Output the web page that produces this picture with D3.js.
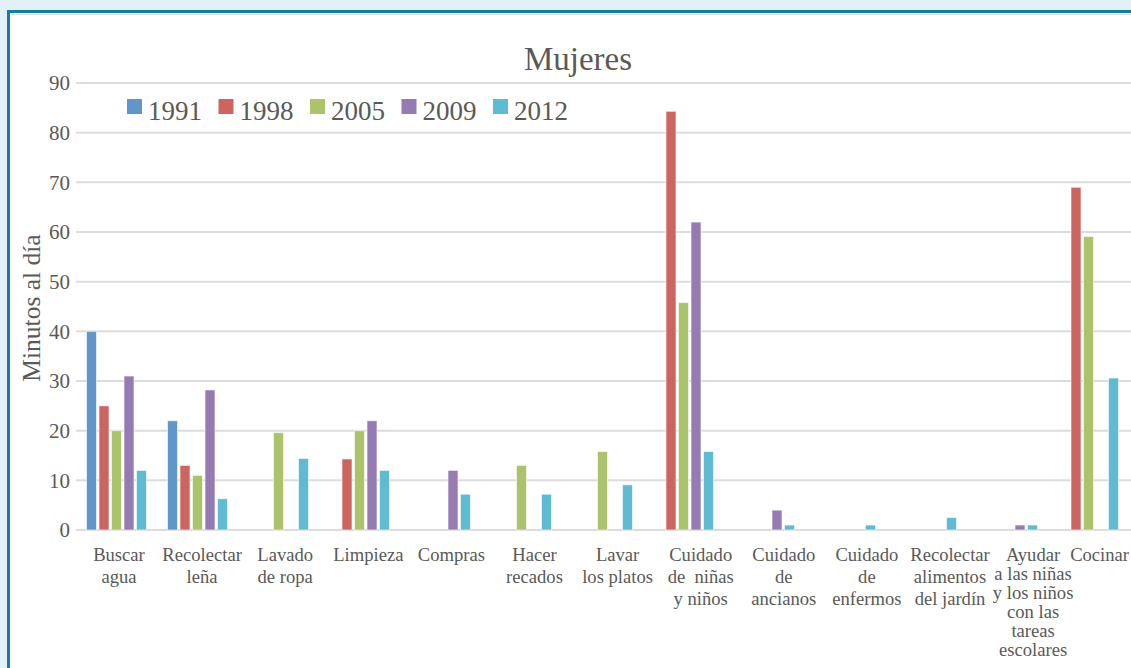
<!DOCTYPE html>
<html><head><meta charset="utf-8">
<script src="https://cdn.jsdelivr.net/npm/d3@7"></script>
<style>
html,body{margin:0;padding:0;background:#e3f0f8;overflow:hidden;}
svg{display:block;}
</style></head>
<body>
<svg id="c" width="1131" height="668"></svg>
<script>
const categories = [
  ["Buscar","agua"],
  ["Recolectar","leña"],
  ["Lavado","de ropa"],
  ["Limpieza"],
  ["Compras"],
  ["Hacer","recados"],
  ["Lavar","los platos"],
  ["Cuidado","de  niñas","y niños"],
  ["Cuidado","de","ancianos"],
  ["Cuidado","de","enfermos"],
  ["Recolectar","alimentos","del jardín"],
  ["Ayudar","a las niñas","y los niños","con las","tareas","escolares"],
  ["Cocinar"]
];
const seriesNames = ["1991","1998","2005","2009","2012"];
const v1991 = [40, 22, null, null, null, null, null, null, null, null, null, null, null];
const v1998 = [25, 13, null, 14.3, null, null, null, 84.3, null, null, null, null, 69];
const v2005 = [20, 11, 19.6, 20, null, 13, 15.8, 45.8, null, null, null, null, 59.1];
const v2009 = [31, 28.2, null, 22, 12, null, null, 62, 4, null, null, 1, null];
const v2012 = [12, 6.3, 14.4, 12, 7.2, 7.2, 9.1, 15.8, 1, 1, 2.5, 1, 30.6];
const seriesValues = [v1991, v1998, v2005, v2009, v2012];
const colors = ["#6096c8","#cc6560","#abc46c","#957bb2","#5ebbd2"];
const yTicks = [0,10,20,30,40,50,60,70,80,90];

const FONT = "Liberation Serif";
const TXT = "#595959";
const svg = d3.select("#c");

// frame
svg.append("rect").attr("x",8.5).attr("y",11.5).attr("width",1140).attr("height",700)
  .attr("fill","#ffffff").attr("stroke","#127f9e").attr("stroke-width",3);
svg.append("line").attr("x1",10).attr("x2",1131).attr("y1",14.5).attr("y2",14.5)
  .attr("stroke","#e4e4e4").attr("stroke-width",1);

const plotLeft = 76, bandW = 81, plotTop = 83, plotBottom = 530;
const x = d3.scaleBand().domain(d3.range(categories.length)).range([plotLeft, plotLeft + bandW*categories.length]).padding(0);
const xs = d3.scaleBand().domain(seriesNames).range([0, x.bandwidth()]).paddingInner(0.2).paddingOuter(0.84);
const y = d3.scaleLinear().domain([0,90]).range([plotBottom, plotTop]);
// label slots (category labels are laid out slightly wider than the bar bands)
const xLab = d3.scalePoint().domain(d3.range(categories.length)).range([119, 119 + 83.1*12]);

// gridlines
svg.append("g").selectAll("line").data(yTicks).join("line")
  .attr("x1", plotLeft).attr("x2", 1131)
  .attr("y1", d=>y(d)).attr("y2", d=>y(d))
  .attr("stroke","#dcdcdc").attr("stroke-width",2);

// y tick labels
const yAxis = d3.axisLeft(y).tickValues(yTicks).tickSize(0).tickPadding(6);
const ya = svg.append("g").attr("transform",`translate(${plotLeft},0)`).call(yAxis)
  .attr("font-family", FONT).attr("font-size", 21);
ya.select(".domain").remove();
ya.selectAll("text").attr("font-family", FONT).attr("font-size",21).attr("fill",TXT);

// bars
seriesNames.forEach((s,si)=>{
  svg.append("g").selectAll("rect")
    .data(seriesValues[si].map((v,i)=>({v,i})).filter(d=>d.v!=null))
    .join("rect")
    .attr("x", d=>x(d.i)+xs(s))
    .attr("y", d=>y(d.v))
    .attr("width", xs.bandwidth())
    .attr("height", d=>y(0)-y(d.v))
    .attr("fill", colors[si])
    .attr("stroke","rgba(255,255,255,0.6)").attr("stroke-width",1);
});

// x labels
const xl = svg.append("g");
categories.forEach((lines,i)=>{
  let cx = xLab(i);
  let anchor = "middle";
  if (i === categories.length-1) { cx = 1129; anchor = "end"; }
  const pitch = lines.length > 3 ? 19 : 22;
  const t = xl.append("text").attr("x", cx).attr("y", 561)
    .attr("text-anchor",anchor).attr("font-family",FONT).attr("font-size",18.6).attr("fill",TXT)
    .attr("xml:space","preserve");
  lines.forEach((ln,k)=>{
    t.append("tspan").attr("x", cx).attr("dy", k===0?0:pitch).text(ln);
  });
});

// title
svg.append("text").attr("x",578).attr("y",70).attr("text-anchor","middle")
  .attr("font-family",FONT).attr("font-size",33).attr("fill",TXT).text("Mujeres");

// y axis title
svg.append("text").attr("transform","translate(40,308) rotate(-90)").attr("text-anchor","middle")
  .attr("font-family",FONT).attr("font-size",25.5).attr("fill",TXT).text("Minutos al día");

// legend
const lg = svg.append("g");
seriesNames.forEach((s,i)=>{
  const lx = 127 + i*91.5;
  lg.append("rect").attr("x",lx).attr("y",99).attr("width",15).attr("height",15).attr("fill",colors[i]);
  lg.append("text").attr("x",lx+21).attr("y",120).attr("font-family",FONT).attr("font-size",27)
    .attr("fill",TXT).text(s);
});
</script>
</body></html>
